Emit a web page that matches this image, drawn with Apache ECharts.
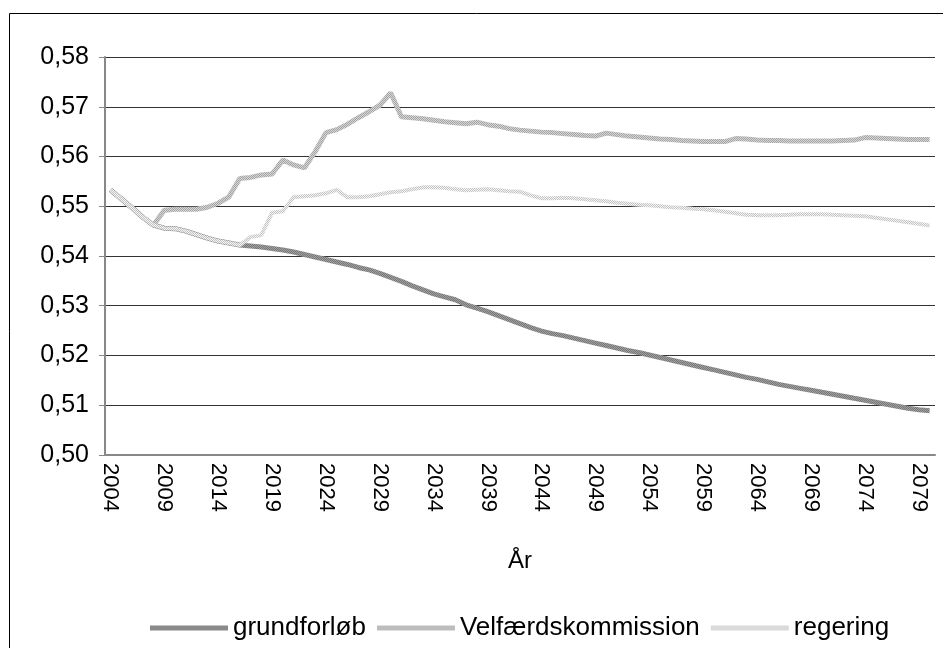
<!DOCTYPE html>
<html><head><meta charset="utf-8">
<script src="https://cdn.jsdelivr.net/npm/echarts@6/dist/echarts.min.js"></script>
<style>html,body{margin:0;padding:0;background:#fff}#c{width:943px;height:648px}</style>
</head><body><div id="c"></div>
<script>
const years = [];
for (let y = 2004; y <= 2080; y++) years.push(String(y));

const grundforlob = [
0.5533,0.5515,0.5497,0.5478,0.5462,0.5456,0.5455,0.5450,0.5443,0.5436,0.5430,0.5426,0.5422,
0.5420,0.5418,0.5415,0.5412,0.5408,0.5403,0.5398,0.5393,0.5388,0.5383,0.5377,0.5372,0.5365,
0.5357,0.5349,0.5340,0.5332,0.5324,0.5318,0.5312,0.5302,0.5295,0.5288,0.5280,0.5272,0.5264,
0.5256,0.5249,0.5244,0.5240,0.5235,0.5230,0.5225,0.5220,0.5215,0.5210,0.5206,0.5201,0.5196,
0.5191,0.5186,0.5181,0.5176,0.5171,0.5166,0.5161,0.5156,0.5152,0.5147,0.5142,0.5138,0.5134,
0.5130,0.5126,0.5122,0.5118,0.5114,0.5110,0.5106,0.5102,0.5098,0.5094,0.5091,0.5089];

const velfaerd = [
0.5533,0.5515,0.5497,0.5478,0.5462,0.5492,0.5494,0.5494,0.5494,0.5498,0.5506,0.5519,0.5556,
0.5558,0.5563,0.5565,0.5593,0.5583,0.5577,0.5610,0.5648,0.5654,0.5665,0.5678,0.5690,0.5703,
0.5728,0.5680,0.5678,0.5676,0.5673,0.5670,0.5668,0.5666,0.5669,0.5664,0.5661,0.5656,0.5653,
0.5651,0.5649,0.5648,0.5646,0.5644,0.5642,0.5641,0.5647,0.5644,0.5641,0.5639,0.5637,0.5635,
0.5634,0.5632,0.5631,0.5630,0.5630,0.5630,0.5636,0.5635,0.5633,0.5632,0.5632,0.5631,0.5631,
0.5631,0.5631,0.5631,0.5632,0.5633,0.5638,0.5637,0.5636,0.5635,0.5634,0.5634,0.5634];

const regering = [
0.5533,0.5515,0.5497,0.5478,0.5462,0.5456,0.5455,0.5450,0.5443,0.5436,0.5430,0.5426,0.5422,
0.5438,0.5442,0.5487,0.5490,0.5518,0.5520,0.5522,0.5526,0.5533,0.5518,0.5518,0.5520,0.5524,
0.5528,0.5530,0.5534,0.5538,0.5538,0.5537,0.5534,0.5532,0.5533,0.5534,0.5532,0.5530,0.5529,
0.5522,0.5516,0.5516,0.5517,0.5516,0.5514,0.5512,0.5510,0.5507,0.5505,0.5503,0.5502,0.5500,
0.5498,0.5497,0.5495,0.5494,0.5492,0.5489,0.5486,0.5483,0.5482,0.5482,0.5482,0.5483,0.5484,
0.5484,0.5484,0.5483,0.5482,0.5481,0.5480,0.5477,0.5474,0.5471,0.5468,0.5465,0.5461];

const seriesNames = ['grundforløb', 'Velfærdskommission', 'regering'];

function pattern(dark, light) {
  const c = document.createElement('canvas');
  c.width = 2; c.height = 2;
  const g = c.getContext('2d');
  g.fillStyle = light; g.fillRect(0, 0, 2, 2);
  g.fillStyle = dark; g.fillRect(0, 0, 1, 1); g.fillRect(1, 1, 1, 1);
  return c;
}
const colors = ['#8a8a8a', '#bdbdbd', '#dadada'];
const pats = [pattern('#777777', '#a0a0a0'), pattern('#a4a4a4', '#d6d6d6'), pattern('#c4c4c4', '#f4f4f4')];

const chart = echarts.init(document.getElementById('c'));
const font = 'Liberation Sans, Arial, sans-serif';
function mk(name, data, i, w) {
  return {
    name: name, type: 'line', data: data, symbol: 'none', smooth: false,
    lineStyle: { color: { image: pats[i], repeat: 'repeat' }, width: w },
    itemStyle: { color: colors[i] },
    animation: false
  };
}
chart.setOption({
  animation: false,
  graphic: [{
    type: 'rect', shape: { x: 9.5, y: 13.5, width: 960, height: 660 },
    style: { fill: 'none', stroke: '#000', lineWidth: 1 }, z: -1
  }],
  grid: { left: 105, right: 8, top: 57, bottom: 193 },
  legend: {
    bottom: 2, left: 145, itemWidth: 78, itemHeight: 5, itemGap: 11,
    icon: 'rect',
    textStyle: { fontFamily: font, fontSize: 26, color: '#000' },
    data: seriesNames
  },
  xAxis: {
    type: 'category', data: years, boundaryGap: true,
    name: 'År', nameLocation: 'middle', nameGap: 94,
    nameTextStyle: { fontFamily: font, fontSize: 24, color: '#000' },
    axisLine: { lineStyle: { color: '#888', width: 2 } },
    axisTick: { interval: 0, length: 6, lineStyle: { color: '#888' } },
    axisLabel: { interval: 4, rotate: -90, fontFamily: font, fontSize: 22, color: '#000', margin: 8 },
    splitLine: { show: false }
  },
  yAxis: {
    type: 'value', min: 0.50, max: 0.58, interval: 0.01,
    axisLine: { show: true, lineStyle: { color: '#888', width: 2 } },
    axisTick: { show: true, length: 6, lineStyle: { color: '#888' } },
    axisLabel: { fontFamily: font, fontSize: 25, color: '#000', margin: 16,
      formatter: v => v.toFixed(2).replace('.', ',') },
    splitLine: { lineStyle: { color: '#333', width: 1 } }
  },
  series: [
    mk(seriesNames[0], grundforlob, 0, 5),
    mk(seriesNames[1], velfaerd, 1, 5),
    mk(seriesNames[2], regering, 2, 4)
  ]
});
</script></body></html>
